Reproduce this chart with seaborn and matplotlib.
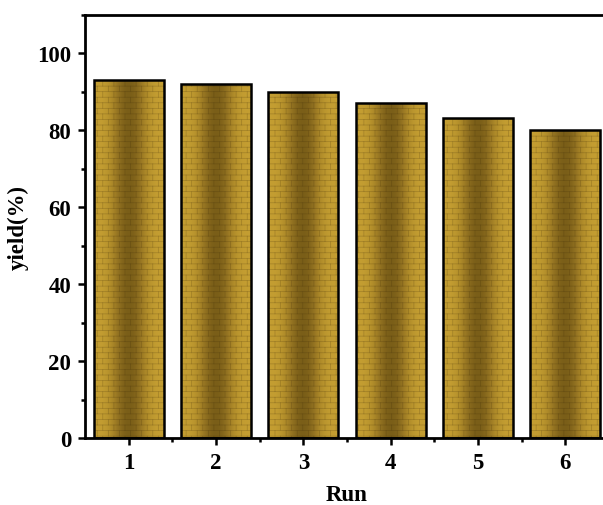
import numpy as np
import pandas as pd
import matplotlib
matplotlib.use("Agg")
import matplotlib.pyplot as plt
import matplotlib.hatch as mhatch
from matplotlib.path import Path
from matplotlib.patches import Rectangle
from matplotlib.colors import LinearSegmentedColormap
from matplotlib.ticker import MultipleLocator
import seaborn as sns

# ---- data ----
runs = ["1", "2", "3", "4", "5", "6"]
yields = [93, 92, 90, 87, 83, 80]
yticks = [0, 20, 40, 60, 80, 100]


# ---- brick hatch (replaces '-' hatch) ----
class BrickHatch(mhatch.HatchPatternBase):
    def __init__(self, hatch, density):
        self.rows = int(hatch.count('-') * density)
        self.bricks = 9
        self.num_vertices = (self.rows * 2 + self.rows * self.bricks * 2
                             + self.bricks * 2) if self.rows else 0

    def set_vertices_and_codes(self, vertices, codes):
        R, B = self.rows, self.bricks
        verts = []
        cds = []
        for i in range(R):
            y = (i + 0.5) / R
            verts += [(0.0, y), (1.0, y)]
            cds += [Path.MOVETO, Path.LINETO]
        for i in range(R):
            y0 = (i + 0.5) / R
            y1 = (i + 1.5) / R
            off = 0.5 / B if i % 2 else 0.0
            for j in range(B):
                x = j / B + off + 0.25 / B
                if i < R - 1:
                    verts += [(x, y0), (x, y1)]
                    cds += [Path.MOVETO, Path.LINETO]
                else:
                    verts += [(x, y0), (x, 1.0), (x, 0.0), (x, 0.5 / R)]
                    cds += [Path.MOVETO, Path.LINETO, Path.MOVETO, Path.LINETO]
        vertices[:] = np.array(verts)
        codes[:] = np.array(cds)


mhatch._hatch_types[:] = [BrickHatch]

sns.set_theme(style="ticks")
plt.rcParams['font.family'] = ['Liberation Serif', 'DejaVu Serif']
plt.rcParams['font.weight'] = 'bold'
plt.rcParams['hatch.linewidth'] = 0.5
plt.rcParams['text.color'] = 'black'
plt.rcParams['axes.labelcolor'] = 'black'

df = pd.DataFrame({"Run": runs, "yield": yields})

fig = plt.figure(figsize=(6.03, 5.06), dpi=100)
ax = fig.add_axes([85 / 603, 1 - 439 / 506, 524 / 603, (439 - 15.5) / 506])

sns.barplot(data=df, x="Run", y="yield", ax=ax, color="#a8861f",
            width=0.8, edgecolor="black", linewidth=1.8, saturation=1)

cmap = LinearSegmentedColormap.from_list(
    "gold", ["#c49e32", "#b08c2a", "#957422", "#7a5e18"])
xs = np.linspace(0, 1, 256)
grad = (np.sin(np.pi * xs) ** 3).reshape(1, -1)

for p in ax.patches:
    x0, y0 = p.get_x(), p.get_y()
    w, h = p.get_width(), p.get_height()
    im = ax.imshow(grad, extent=(x0, x0 + w, y0, y0 + h), cmap=cmap,
                   aspect='auto', zorder=1, interpolation='bilinear',
                   vmin=0, vmax=1)
    im.set_clip_path(p)
    hr = Rectangle((x0, y0), w, h, facecolor='none', edgecolor='#3a2806',
                   linewidth=0, hatch='---', zorder=2, alpha=0.25)
    ax.add_patch(hr)
    p.set_facecolor('none')
    p.set_zorder(3)

ax.set_xlim(-0.5, 5.5)
ax.set_ylim(0, 110)
ax.set_yticks(yticks)
ax.yaxis.set_minor_locator(MultipleLocator(10))
ax.set_xticks(range(len(runs)))
ax.set_xticklabels(runs)
ax.set_xticks(np.arange(0.5, 5.0, 1.0), minor=True)

for s in ["left", "bottom", "top", "right"]:
    ax.spines[s].set_linewidth(2.0)
    ax.spines[s].set_color("black")

ax.tick_params(axis='both', which='major', direction='out', length=5,
               width=1.8, labelsize=16.5, colors='black')
ax.tick_params(axis='x', which='major', pad=5)
ax.tick_params(axis='y', which='major', pad=5)
ax.tick_params(axis='both', which='minor', direction='out', length=3,
               width=1.8, colors='black')
for lab in ax.get_xticklabels() + ax.get_yticklabels():
    lab.set_fontweight('bold')

ax.set_xlabel("Run", fontsize=16.5, fontweight='bold', labelpad=8,
              color='black')
ax.set_ylabel("yield(%)", fontsize=16.5, fontweight='bold', labelpad=6,
              color='black')

fig.savefig("out.png", dpi=100)
